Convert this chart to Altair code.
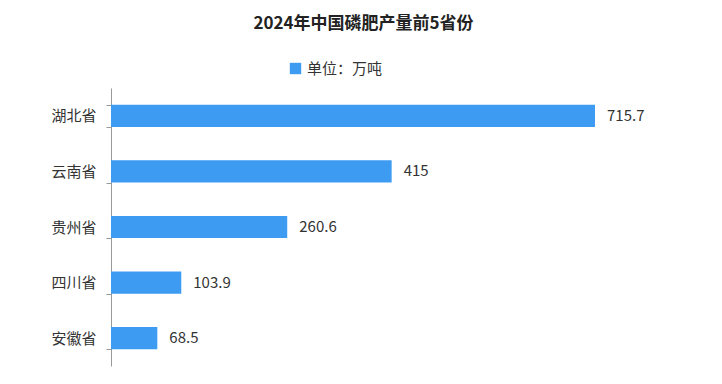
import altair as alt
import pandas as pd

provinces = ["湖北省", "云南省", "贵州省", "四川省", "安徽省"]
values = [715.7, 415, 260.6, 103.9, 68.5]
labels = ["715.7", "415", "260.6", "103.9", "68.5"]
series = ["单位：万吨"] * 5

df = pd.DataFrame({"省份": provinces, "产量": values, "标签": labels, "单位": series})

FONT = "Noto Sans CJK SC"

base = alt.Chart(df).encode(
    y=alt.Y("省份:N", sort=None,
            scale=alt.Scale(paddingInner=0.6, paddingOuter=0.3),
            axis=alt.Axis(title=None, labelFontSize=15, labelColor="#333333", labelFont=FONT,
                          domainColor="#999999", tickColor="#999999", tickSize=5,
                          tickBand="extent", labelPadding=10)),
)

bars = base.mark_bar(color="#3d9bf2").encode(
    x=alt.X("产量:Q", scale=alt.Scale(domain=[0, 800]), axis=None),
    color=alt.Color("单位:N", scale=alt.Scale(range=["#3d9bf2"]),
                    legend=alt.Legend(title=None, orient="none", legendX=177, legendY=-27,
                                      symbolType="square", symbolSize=130,
                                      labelFontSize=15, labelFont=FONT, labelColor="#333333",
                                      symbolStrokeWidth=0)),
)

text = base.mark_text(align="left", dx=12, fontSize=15, font=FONT, color="#333333").encode(
    x=alt.X("产量:Q"),
    text="标签:N",
)

chart = (bars + text).properties(
    width=541, height=278,
    background="white",
    padding={"left": 42, "top": 7, "right": 5, "bottom": 5},
    title=alt.TitleParams("2024年中国磷肥产量前5省份", fontSize=17, font=FONT,
                          fontWeight="bold", color="#222222", anchor="middle", offset=28, dx=-18),
).configure_view(strokeWidth=0, stroke=None)

chart.save("out.html", embed_options={"renderer": "svg", "actions": False})
